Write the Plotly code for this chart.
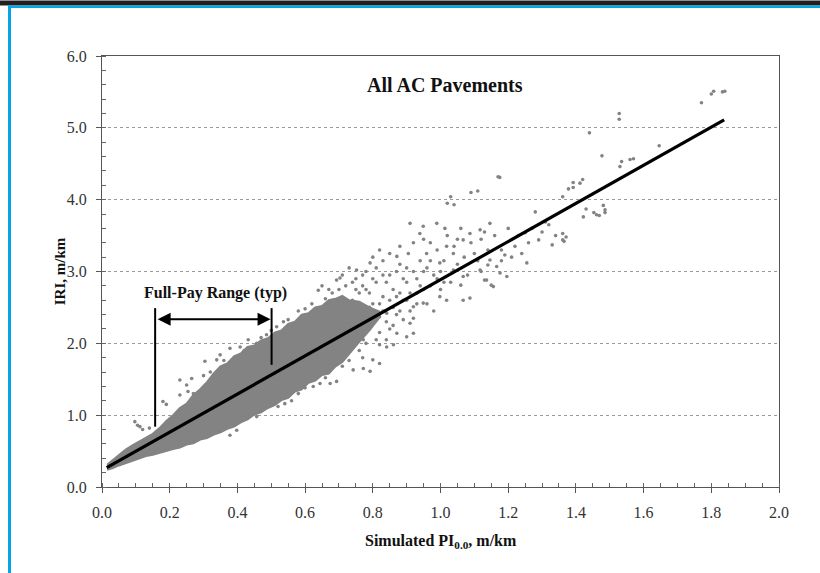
import plotly.graph_objects as go

# ---------------- data ----------------
# dense core of the point cloud (upper edge left->right, then lower edge right->left)
CORE_UPPER_X = [0.015, 0.03, 0.05, 0.07, 0.09, 0.11, 0.13, 0.15, 0.17, 0.19, 0.21, 0.23,
                0.25, 0.27, 0.29, 0.31, 0.33, 0.35, 0.37, 0.39, 0.41, 0.43, 0.45, 0.47,
                0.49, 0.51, 0.53, 0.55, 0.57, 0.59, 0.61, 0.63, 0.65, 0.67, 0.69, 0.71,
                0.73, 0.76, 0.79, 0.82]
CORE_UPPER_Y = [0.31, 0.37, 0.45, 0.52, 0.58, 0.63, 0.68, 0.74, 0.82, 0.92, 1.00, 1.10,
                1.16, 1.28, 1.36, 1.46, 1.58, 1.68, 1.72, 1.82, 1.86, 1.95, 1.97, 2.04,
                2.07, 2.15, 2.18, 2.27, 2.30, 2.40, 2.42, 2.50, 2.52, 2.60, 2.62, 2.66,
                2.60, 2.58, 2.50, 2.44]
CORE_LOWER_X = [0.82, 0.79, 0.76, 0.73, 0.71, 0.69, 0.67, 0.65, 0.63, 0.61, 0.59, 0.57,
                0.55, 0.53, 0.51, 0.49, 0.47, 0.45, 0.43, 0.41, 0.39, 0.37, 0.35, 0.33,
                0.31, 0.29, 0.27, 0.25, 0.23, 0.21, 0.19, 0.17, 0.15, 0.13, 0.11, 0.09,
                0.07, 0.05, 0.03, 0.015]
CORE_LOWER_Y = [2.36, 2.18, 2.02, 1.86, 1.74, 1.68, 1.58, 1.56, 1.48, 1.45, 1.36, 1.33,
                1.24, 1.21, 1.14, 1.10, 1.04, 1.01, 0.94, 0.90, 0.84, 0.81, 0.76, 0.73,
                0.68, 0.66, 0.61, 0.59, 0.55, 0.53, 0.50, 0.48, 0.45, 0.43, 0.40, 0.37,
                0.34, 0.30, 0.26, 0.24]

# scattered individual points
SPARSE_PTS = [
    (0.097, 0.91), (0.112, 0.84), (0.105, 0.86), (0.12, 0.80), (0.14, 0.82), (0.18, 1.19),
    (0.19, 1.15), (0.23, 1.28), (0.254, 1.33), (0.27, 1.30), (0.23, 1.49), (0.265, 1.51),
    (0.25, 1.42), (0.304, 1.75), (0.339, 1.77), (0.349, 1.84), (0.378, 1.93), (0.393, 1.68),
    (0.408, 1.95), (0.432, 2.05), (0.457, 2.00), (0.486, 2.12), (0.516, 2.23), (0.536, 2.30),
    (0.565, 2.23), (0.30, 1.55), (0.32, 1.60), (0.36, 1.76), (0.42, 1.90), (0.47, 2.08),
    (0.50, 2.18), (0.55, 2.33), (0.58, 2.45), (0.60, 2.48), (0.62, 2.55), (0.639, 2.74),
    (0.683, 2.60), (0.66, 2.62), (0.693, 2.88), (0.703, 2.91), (0.72, 2.80), (0.74, 2.85),
    (0.752, 3.02), (0.77, 2.95), (0.792, 3.12), (0.81, 3.05), (0.83, 3.15), (0.871, 3.21),
    (0.905, 3.25), (0.91, 3.67), (0.949, 3.63), (0.939, 3.53), (0.989, 3.67), (1.013, 3.60),
    (1.03, 4.04), (1.04, 3.93), (1.02, 3.95), (1.067, 3.44), (1.087, 3.53), (1.117, 3.58),
    (1.146, 3.67), (1.018, 3.35), (1.038, 3.25), (0.959, 3.25), (0.998, 3.12), (1.038, 3.02),
    (1.067, 2.93), (1.117, 3.02), (1.146, 3.16), (1.166, 3.07), (1.176, 2.98), (1.156, 2.79),
    (1.196, 2.93), (1.136, 2.88), (1.255, 3.12), (1.09, 4.10), (1.11, 4.12), (1.17, 4.32),
    (1.175, 4.31), (1.28, 3.83), (1.31, 3.69), (1.25, 3.54), (1.29, 3.44), (1.33, 3.37),
    (1.34, 3.50), (1.18, 3.30), (1.19, 3.23), (1.14, 3.09), (1.12, 3.00), (1.13, 2.88),
    (1.15, 2.81), (1.06, 2.81),
    (0.998, 2.65), (1.018, 2.60), (1.067, 2.60), (1.087, 2.63), (0.92, 2.51), (0.949, 2.56),
    (0.89, 2.33), (0.91, 2.28), (0.871, 2.14), (0.90, 2.09), (0.92, 2.14), (0.82, 2.37),
    (0.841, 2.42), (0.772, 2.05), (0.82, 1.98), (0.841, 1.95), (0.861, 1.98), (0.80, 1.77),
    (0.82, 1.72), (0.742, 1.63), (0.772, 1.65), (0.792, 1.61), (0.674, 1.44), (0.693, 1.47),
    (0.624, 1.40), (0.644, 1.44), (0.378, 0.72), (0.398, 0.79), (0.427, 1.03), (0.457, 0.98),
    (0.31, 0.75), (0.28, 0.65), (0.71, 1.80), (0.73, 1.90), (0.75, 2.00), (0.76, 2.20),
    (0.78, 2.30), (0.85, 2.60), (0.86, 2.50), (0.88, 2.70), (0.93, 2.90), (0.95, 3.00),
    (0.97, 2.80), (0.74, 2.40), (0.76, 2.55), (0.79, 2.70), (0.84, 2.85), (0.87, 3.00),
    (0.90, 3.05),
    (0.62, 2.05), (0.64, 2.20), (0.66, 2.35), (0.68, 2.15), (0.70, 2.45), (0.72, 2.25),
    (0.74, 2.60), (0.75, 2.15), (0.77, 2.45), (0.78, 2.75), (0.79, 2.20), (0.80, 2.55),
    (0.81, 2.85), (0.82, 2.15), (0.83, 2.65), (0.84, 2.30), (0.85, 2.95), (0.86, 2.75),
    (0.87, 2.40), (0.88, 3.10), (0.89, 2.60), (0.90, 2.85), (0.91, 2.45), (0.92, 3.00),
    (0.93, 2.70), (0.94, 3.15), (0.95, 2.75), (0.96, 3.05), (0.97, 3.40), (0.98, 2.95),
    (0.99, 3.30), (1.00, 2.75), (1.01, 3.15), (1.02, 3.50), (1.03, 2.85), (1.04, 3.35),
    (1.05, 3.10), (1.06, 3.60), (1.07, 3.20), (1.08, 2.95), (1.09, 3.40), (1.10, 3.25),
    (1.12, 3.45), (1.14, 3.30), (1.16, 3.50), (1.18, 3.15), (1.20, 3.60), (1.22, 3.35),
    (1.24, 3.25), (1.26, 3.40), (0.70, 2.00), (0.72, 2.55), (0.74, 1.95), (0.76, 2.70),
    (0.78, 2.00), (0.80, 2.30), (0.82, 2.55), (0.84, 2.05), (0.86, 2.25), (0.88, 2.45),
    (0.90, 2.60), (0.92, 2.35), (0.94, 2.80), (0.96, 2.55), (0.98, 2.45), (1.00, 3.00),
    (0.65, 2.80), (0.67, 2.75), (0.69, 2.35), (0.71, 2.95), (0.73, 3.05), (0.75, 2.90),
    (0.78, 3.00), (0.80, 3.20), (0.82, 3.30), (0.85, 3.25), (0.88, 3.35), (0.92, 3.40),
    (0.95, 3.45), (0.76, 1.90), (0.77, 2.35), (0.79, 2.50), (0.81, 2.05), (0.83, 2.45),
    (0.85, 2.20), (0.87, 2.65), (0.89, 2.90), (0.91, 2.70), (0.93, 2.55), (0.97, 3.15),
    (0.99, 2.90), (1.01, 2.85), (1.05, 3.45), (1.11, 3.15), (1.13, 3.55), (1.21, 3.20),
    (1.23, 3.50), (1.27, 3.60), (1.30, 3.55), (1.32, 3.65),
    (0.52, 1.12), (0.56, 1.20), (0.58, 1.30), (0.60, 1.38), (0.54, 1.16), (0.66, 1.52),
    (0.71, 1.68), (0.73, 1.76), (0.77, 1.80), (0.75, 2.75), (0.77, 2.80), (0.80, 2.90),
    (0.83, 2.95), (0.68, 2.70), (0.70, 2.75),
    (1.361, 4.04), (1.378, 4.15), (1.392, 4.17), (1.392, 4.24), (1.412, 4.23), (1.42, 4.28),
    (1.43, 3.87), (1.422, 3.76), (1.453, 3.82), (1.461, 3.79), (1.469, 3.78), (1.481, 3.92),
    (1.486, 3.86), (1.486, 3.82), (1.361, 3.53), (1.361, 3.44), (1.371, 3.48), (1.365, 3.42),
    (1.477, 4.61), (1.535, 4.53), (1.530, 4.46), (1.560, 4.56), (1.570, 4.57), (1.646, 4.75),
    (1.44, 4.93), (1.528, 5.20), (1.528, 5.12), (1.771, 5.35), (1.80, 5.47), (1.807, 5.51),
    (1.833, 5.50), (1.840, 5.51),
]

# regression line
REG_X = [0.014, 1.838]
REG_Y = [0.27, 5.11]

# full-pay range annotation
FULLPAY_X = [0.157, 0.501]
FULLPAY_BOTTOM_Y = [0.84, 1.70]
FULLPAY_TOP_Y = 2.49
FULLPAY_ARROW_Y = 2.335

X_TICKS = [0.0, 0.2, 0.4, 0.6, 0.8, 1.0, 1.2, 1.4, 1.6, 1.8, 2.0]
Y_TICKS = [0.0, 1.0, 2.0, 3.0, 4.0, 5.0, 6.0]

# ---------------- layout constants (pixels) ----------------
W, H = 820, 573
L, R, T, B = 102, 779, 55.5, 487
PW, PH = R - L, B - T
GRAY = "#838383"
SERIF = "Liberation Serif, Times New Roman, serif"


def px(x):
    return (x - L) / PW


def py(y):
    return (B - y) / PH


fig = go.Figure()

fig.add_trace(go.Scatter(
    x=CORE_UPPER_X + CORE_LOWER_X, y=CORE_UPPER_Y + CORE_LOWER_Y,
    fill="toself", mode="lines", line=dict(width=2, color=GRAY),
    fillcolor=GRAY, hoverinfo="skip", showlegend=False))

fig.add_trace(go.Scatter(
    x=[p[0] for p in SPARSE_PTS], y=[p[1] for p in SPARSE_PTS],
    mode="markers", marker=dict(size=3.6, color=GRAY), showlegend=False))

fig.add_trace(go.Scatter(
    x=REG_X, y=REG_Y, mode="lines", line=dict(color="black", width=3.2),
    showlegend=False))

shapes = []
for xv, yb in zip(FULLPAY_X, FULLPAY_BOTTOM_Y):
    shapes.append(dict(type="line", xref="x", yref="y", x0=xv, x1=xv,
                       y0=yb, y1=FULLPAY_TOP_Y, line=dict(color="black", width=2)))

# page frame decorations
shapes.append(dict(type="rect", xref="paper", yref="paper", x0=px(0), x1=px(W),
                   y0=py(0), y1=py(5), fillcolor="#231f20", line=dict(width=0), layer="above"))
shapes.append(dict(type="rect", xref="paper", yref="paper", x0=px(8), x1=px(W),
                   y0=py(5), y1=py(7.5), fillcolor="#05a6e3", line=dict(width=0), layer="above"))
shapes.append(dict(type="rect", xref="paper", yref="paper", x0=px(8), x1=px(11),
                   y0=py(H), y1=py(5), fillcolor="#05a6e3", line=dict(width=0), layer="above"))

annotations = [
    dict(x=FULLPAY_X[1], y=FULLPAY_ARROW_Y, ax=FULLPAY_X[0], ay=FULLPAY_ARROW_Y,
         xref="x", yref="y", axref="x", ayref="y", text="", showarrow=True,
         arrowside="end+start", arrowhead=2, arrowsize=1.3, arrowwidth=2,
         arrowcolor="black", standoff=1, startstandoff=1),
    dict(x=0.334, y=2.70, xref="x", yref="y", text="<b>Full-Pay Range (typ)</b>",
         xanchor="center", yanchor="middle",
         showarrow=False, font=dict(family=SERIF, size=16, color="#111")),
    dict(x=px(445), y=py(85), xref="paper", yref="paper", text="<b>All AC Pavements</b>",
         xanchor="center", yanchor="middle",
         showarrow=False, font=dict(family=SERIF, size=20, color="#111")),
    dict(x=px(441), y=py(541.5), xref="paper", yref="paper",
         text="<b>Simulated PI<sub>0.0</sub>, m/km</b>", xanchor="center", yanchor="middle",
         showarrow=False, font=dict(family=SERIF, size=16, color="#111")),
    dict(x=px(60), y=py(271), xref="paper", yref="paper", text="<b>IRI, m/km</b>",
         xanchor="center", yanchor="middle",
         textangle=-90, showarrow=False, font=dict(family=SERIF, size=15, color="#111")),
]

axis_common = dict(showline=True, linecolor="#555", linewidth=1, mirror=True,
                   ticks="outside", ticklen=5, tickcolor="#555", tickwidth=1,
                   tickfont=dict(family=SERIF, size=16, color="#333"),
                   zeroline=False, tickformat=".1f")

fig.update_layout(
    width=W, height=H, margin=dict(l=L, r=W - R, t=T, b=H - B, autoexpand=False),
    paper_bgcolor="white", plot_bgcolor="white",
    shapes=shapes, annotations=annotations,
    xaxis=dict(range=[0, 2.0], tickvals=X_TICKS, showgrid=False,
               minor=dict(dtick=0.05, tick0=0, ticks="inside", ticklen=4,
                          tickcolor="#666", showgrid=False),
               ticklabelstandoff=6, **axis_common),
    yaxis=dict(range=[0, 6.0], tickvals=Y_TICKS, showgrid=True, gridcolor="#9a9a9a",
               griddash="3px,3px", gridwidth=1,
               minor=dict(dtick=0.2, tick0=0, ticks="inside", ticklen=4,
                          tickcolor="#666", showgrid=False),
               ticklabelstandoff=6, **axis_common),
)

fig.write_html("out.html")
